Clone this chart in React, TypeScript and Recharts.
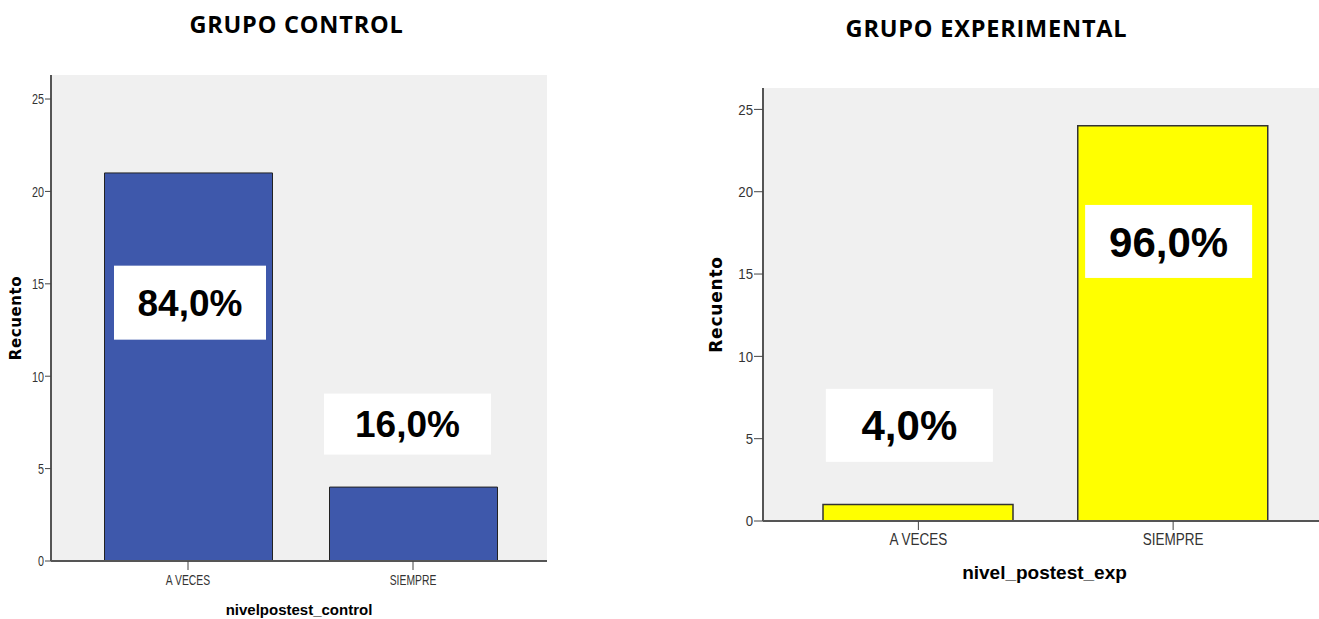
import { Bar, BarChart, CartesianGrid, Label, ReferenceDot, XAxis, YAxis } from 'recharts';

const categories = ['A VECES', 'SIEMPRE'];
const controlCounts = [21, 4];
const experimentalCounts = [1, 24];
const controlPercents = ['84,0%', '16,0%'];
const experimentalPercents = ['4,0%', '96,0%'];
const yTicks = [0, 5, 10, 15, 20, 25];
const Y_MAX = 26.3;

// where the pasted percentage boxes sit (in count units), and their size
const controlBoxes = [
  { y: 13.98, dx: 2, w: 152, h: 74 },
  { y: 7.41, dx: -5.5, w: 167, h: 61 },
];
const experimentalBoxes = [
  { y: 5.81, dx: -9, w: 167, h: 73 },
  { y: 16.98, dx: -4.5, w: 167, h: 73 },
];

const SANS = "'Liberation Sans', Arial, sans-serif";
const TITLE = "'Open Sans', sans-serif";

const controlData = categories.map((name, i) => ({ name, count: controlCounts[i] }));
const experimentalData = categories.map((name, i) => ({ name, count: experimentalCounts[i] }));

// SPSS tick text is a squeezed Arial; fake it with a horizontal scale
const squeezedTick = (fontSize: number, squeeze: number, vertical: boolean) => (props: any) => {
  const { x, y, payload, textAnchor } = props;
  return (
    <g transform={`translate(${x},${y}) scale(${squeeze},1)`}>
      <text
        x={0}
        y={0}
        dy={vertical ? '0.355em' : '0.71em'}
        textAnchor={textAnchor}
        fontFamily={SANS}
        fontSize={fontSize}
        fill="#333"
      >
        {payload.value}
      </text>
    </g>
  );
};

const PercentBox = (props: any) => {
  const { cx, cy, text, w, h, dx, fontSize } = props;
  if (cx == null || cy == null) return null;
  const x = cx + dx;
  return (
    <g>
      <rect x={x - w / 2} y={cy - h / 2} width={w} height={h} fill="#ffffff" />
      <text
        x={x}
        y={cy + fontSize * 0.36}
        textAnchor="middle"
        fontFamily={SANS}
        fontWeight="bold"
        fontSize={fontSize}
        fill="#000"
      >
        {text}
      </text>
    </g>
  );
};

const yTitle = (dx: number, fontSize: number, spacing: number) => (props: any) => {
  const vb = props.viewBox;
  const x = vb.x + dx;
  const y = vb.y + vb.height / 2;
  return (
    <text
      x={x}
      y={y}
      transform={`rotate(-90 ${x} ${y})`}
      textAnchor="middle"
      fontFamily="'DejaVu Sans', sans-serif"
      fontWeight="bold"
      fontSize={fontSize}
      letterSpacing={spacing}
      fill="#000"
    >
      Recuento
    </text>
  );
};

const xTitle = (text: string, dy: number, fontSize: number) => (props: any) => {
  const vb = props.viewBox;
  return (
    <text
      x={vb.x + vb.width / 2}
      y={vb.y + dy}
      textAnchor="middle"
      fontFamily={SANS}
      fontWeight="bold"
      fontSize={fontSize}
      fill="#000"
    >
      {text}
    </text>
  );
};

const frame = { stroke: '#555', strokeWidth: 2 };

export default function App() {
  return (
    <div
      style={{
        position: 'absolute',
        left: 0,
        top: 0,
        width: 1319,
        height: 619,
        overflow: 'hidden',
        background: '#fff',
      }}
    >
      <svg width={1319} height={60} style={{ position: 'absolute', left: 0, top: 0 }}>
        <text x={296.5} y={33.4} textAnchor="middle" fontFamily={TITLE} fontWeight="bold" fontSize={23.5} letterSpacing={0.8}>
          GRUPO CONTROL
        </text>
        <text x={986.5} y={36.9} textAnchor="middle" fontFamily={TITLE} fontWeight="bold" fontSize={23.5} letterSpacing={0.8}>
          GRUPO EXPERIMENTAL
        </text>
      </svg>

      <div style={{ position: 'absolute', left: 0, top: 0 }}>
        <BarChart width={560} height={619} data={controlData} margin={{ top: 75, right: 13, bottom: 0, left: 0 }}>
          <CartesianGrid fill="#f0f0f0" horizontal={false} vertical={false} />
          <XAxis
            dataKey="name"
            height={58}
            padding={{ left: 24.5, right: 21.5 }}
            axisLine={frame}
            tickLine={{ stroke: '#444' }}
            tickSize={9}
            tickMargin={5}
            tick={squeezedTick(14, 0.74, false)}
          >
            <Label content={xTitle('nivelpostest_control', 54, 15)} />
          </XAxis>
          <XAxis xAxisId="top" orientation="top" dataKey="name" height={0} tick={false} tickLine={false} axisLine={frame} />
          <YAxis
            width={51}
            domain={[0, Y_MAX]}
            ticks={yTicks}
            allowDataOverflow
            axisLine={frame}
            tickLine={{ stroke: '#444' }}
            tickSize={6}
            tickMargin={1}
            tick={squeezedTick(15, 0.72, true)}
          >
            <Label content={yTitle(20.5, 15, 0.6)} />
          </YAxis>
          <YAxis yAxisId="right" orientation="right" width={0} tick={false} tickLine={false} axisLine={frame} />
          <Bar dataKey="count" fill="#3e58ab" stroke="#222" strokeWidth={1} barSize={168} isAnimationActive={false} />
          {categories.map((c, i) => (
            <ReferenceDot
              key={c}
              x={c}
              y={controlBoxes[i].y}
              ifOverflow="visible"
              shape={(p: any) => (
                <PercentBox {...p} {...controlBoxes[i]} text={controlPercents[i]} fontSize={37} />
              )}
            />
          ))}
        </BarChart>
      </div>

      <div style={{ position: 'absolute', left: 680, top: 0 }}>
        <BarChart width={660} height={619} data={experimentalData} margin={{ top: 88, right: 14, bottom: 0, left: 0 }}>
          <CartesianGrid fill="#f0f0f0" horizontal={false} vertical={false} />
          <XAxis
            dataKey="name"
            height={98}
            padding={{ left: 28, right: 25.5 }}
            axisLine={frame}
            tickLine={{ stroke: '#444' }}
            tickSize={9}
            tickMargin={3}
            tick={squeezedTick(16.5, 0.82, false)}
          >
            <Label content={xTitle('nivel_postest_exp', 58, 19)} />
          </XAxis>
          <XAxis xAxisId="top" orientation="top" dataKey="name" height={0} tick={false} tickLine={false} axisLine={frame} />
          <YAxis
            width={83}
            domain={[0, Y_MAX]}
            ticks={yTicks}
            allowDataOverflow
            axisLine={frame}
            tickLine={{ stroke: '#444' }}
            tickSize={9}
            tickMargin={1}
            tick={squeezedTick(15, 0.88, true)}
          >
            <Label content={yTitle(41.7, 17, 0.8)} />
          </YAxis>
          <YAxis yAxisId="right" orientation="right" width={0} tick={false} tickLine={false} axisLine={frame} />
          <Bar dataKey="count" fill="#ffff00" stroke="#333" strokeWidth={1.5} barSize={190} isAnimationActive={false} />
          {categories.map((c, i) => (
            <ReferenceDot
              key={c}
              x={c}
              y={experimentalBoxes[i].y}
              ifOverflow="visible"
              shape={(p: any) => (
                <PercentBox {...p} {...experimentalBoxes[i]} text={experimentalPercents[i]} fontSize={42} />
              )}
            />
          ))}
        </BarChart>
      </div>
    </div>
  );
}
